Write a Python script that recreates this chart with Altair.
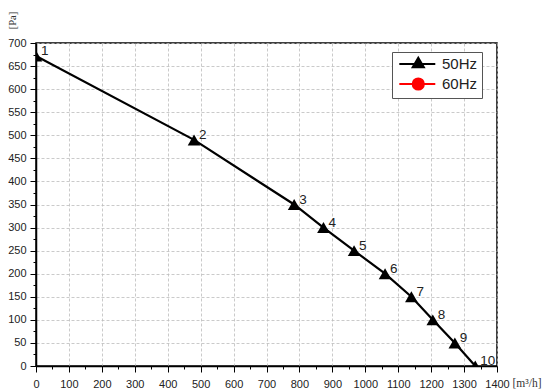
import altair as alt
import pandas as pd

# ---- data ----
flow = [0, 480, 784, 873, 966, 1060, 1140, 1205, 1272, 1334]          # m3/h
pressure = [672, 490, 350, 300, 250, 200, 150, 100, 50, 0]             # Pa
point_ids = ["1", "2", "3", "4", "5", "6", "7", "8", "9", "10"]
series_names = ["50Hz", "60Hz"]
series_colors = ["#000000", "#ff0000"]
x_ticks = list(range(0, 1401, 50))
y_ticks = list(range(0, 701, 25))

# legend glyphs: a line segment with a marker on it (unit = sqrt(size)/2 px)
tri_glyph = "M-0.67,0H4.47M2.04,-0.9L2.84,0.45L1.24,0.45Z"
circ_glyph = "M-0.67,0H4.47M2.84,0A0.8,0.8,0,1,1,1.24,0A0.8,0.8,0,1,1,2.84,0Z"
legend_glyphs = [tri_glyph, circ_glyph]

df = pd.DataFrame({
    "flow": flow,
    "pressure": pressure,
    "id": point_ids,
    "series": ["50Hz"] * len(flow),
})

def cond(test, a, b):
    return {"condition": {"test": test, "value": a}, "value": b}

x_enc = alt.X(
    "flow:Q",
    scale=alt.Scale(domain=[0, 1400], nice=False, zero=False),
    axis=alt.Axis(
        values=x_ticks,
        labelExpr="datum.value % 100 === 0 ? datum.label : ''",
        tickSize=cond("datum.value % 100 === 0", 6, 3),
        gridOpacity=cond("datum.value % 100 === 0", 1, 0),
        labelPadding=6,
        labelFlush=False,
        labelOverlap=False,
        format="d",
        title="[m³/h]",
        titleX=476,
        titleY=20,
        titleAlign="left",
        titleBaseline="alphabetic",
        titleFont="Liberation Serif",
        titleFontSize=11.5,
        titleFontWeight="normal",
        titleColor="#333333",
    ),
)
y_enc = alt.Y(
    "pressure:Q",
    scale=alt.Scale(domain=[0, 700], nice=False),
    axis=alt.Axis(
        values=y_ticks,
        labelExpr="datum.value % 50 === 0 ? datum.label : ''",
        tickSize=cond("datum.value % 50 === 0", 6, 3),
        gridOpacity=cond("datum.value % 50 === 0", 1, 0),
        labelPadding=4,
        labelFlush=False,
        labelOverlap=False,
        format="d",
        title="[Pa]",
        titleAngle=270,
        titleX=-24,
        titleY=-23,
        titleAlign="center",
        titleBaseline="middle",
        titleFont="Liberation Serif",
        titleFontSize=10.5,
        titleFontWeight="normal",
        titleColor="#333333",
    ),
)

base = alt.Chart(df)

line = base.mark_line(color="black", strokeWidth=2.2, clip=True).encode(
    x=x_enc, y=y_enc, order="flow:Q"
)
pts = base.mark_point(
    shape="triangle-up", filled=True, size=160, color="black", opacity=1, clip=True
).encode(x=x_enc, y=y_enc)
labels = base.mark_text(
    align="left", baseline="middle", dx=5, dy=-5, fontSize=13.5,
    font="Liberation Sans", color="#222222"
).encode(x=x_enc, y=y_enc, text="id:N")

leg = alt.Legend(
    title=None,
    orient="none",
    legendX=356,
    legendY=9,
    padding=4,
    rowPadding=2,
    strokeColor="#555555",
    fillColor="white",
    labelFont="Liberation Sans",
    labelFontSize=15,
    labelColor="#222222",
    labelOffset=30,
    symbolSize=196,
    symbolStrokeWidth=2,
    labelLimit=200,
)
legend_layer = base.mark_point(filled=True, size=196, strokeWidth=2, opacity=1).encode(
    x=x_enc,
    y=y_enc,
    fill=alt.Fill("series:N", scale=alt.Scale(domain=series_names, range=series_colors), legend=leg),
    stroke=alt.Stroke("series:N", scale=alt.Scale(domain=series_names, range=series_colors), legend=leg),
    shape=alt.Shape("series:N", scale=alt.Scale(domain=series_names, range=legend_glyphs), legend=leg),
).transform_filter("false")

chart = (
    alt.layer(line, pts, labels, legend_layer)
    .properties(
        width=461,
        height=323,
        padding={"left": 28, "top": 35, "right": 45, "bottom": 24},
        autosize=alt.AutoSizeParams(type="none"),
        background="white",
    )
    .configure_view(stroke="black", strokeWidth=1.5)
    .configure_axis(
        domainColor="black",
        domainWidth=1.5,
        tickColor="black",
        tickWidth=1,
        labelFont="Liberation Sans",
        labelFontSize=11,
        labelColor="#222222",
        gridColor="#bdbdbd",
        gridDash=[3, 2],
        gridWidth=0.8,
    )
)

chart.save("out.html", embed_options={"renderer": "svg", "actions": False})
